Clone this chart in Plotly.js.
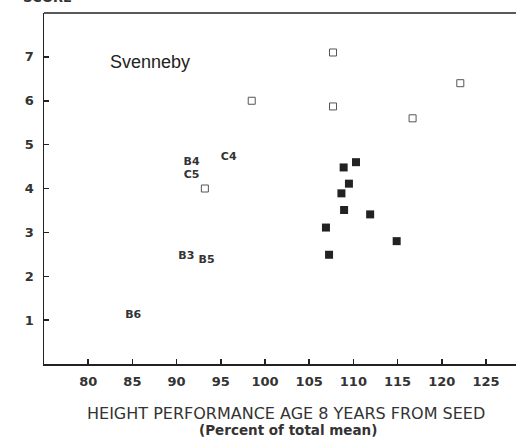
<!DOCTYPE html>
<html><head><meta charset="utf-8">
<script src="https://cdn.plot.ly/plotly-3.0.1.min.js"></script>
<style>body{margin:0;padding:0;background:#fff}#chart{width:516px;height:444px}</style>
</head><body><div id="chart"></div>
<script>
// Open squares
const openX = [98.5, 107.7, 107.7, 122.1, 116.7, 93.2];
const openY = [6.0, 7.1, 5.87, 6.4, 5.6, 4.0];
// Filled squares
const filledX = [110.3, 108.9, 109.5, 108.65, 108.95, 111.9, 106.9, 114.9, 107.25];
const filledY = [4.6, 4.48, 4.11, 3.89, 3.51, 3.41, 3.11, 2.8, 2.49];
// Text-labelled points
const labelText = ["B4", "C5", "C4", "B3", "B5", "B6"];
const labelX = [91.7, 91.7, 95.9, 91.1, 93.4, 85.1];
const labelY = [4.59, 4.31, 4.72, 2.45, 2.36, 1.11];
const xTicks = [80, 85, 90, 95, 100, 105, 110, 115, 120, 125];
const yTicks = [1, 2, 3, 4, 5, 6, 7];

const ink = '#222';
const tickFont = {family: 'DejaVu Sans, sans-serif', size: 13, color: '#333', weight: 'bold'};
const traces = [
  {x: openX, y: openY, mode: 'markers', type: 'scatter',
   marker: {symbol: 'square-open', size: 7, color: '#555', line: {width: 1, color: '#555'}}},
  {x: filledX, y: filledY, mode: 'markers', type: 'scatter',
   marker: {symbol: 'square', size: 8, color: ink}},
  {x: labelX, y: labelY, mode: 'text', type: 'scatter', text: labelText,
   textposition: 'middle center',
   textfont: {family: 'DejaVu Sans, sans-serif', size: 11, color: '#333', weight: 'bold'}}
];
const layout = {
  width: 516, height: 444,
  margin: {l: 44, r: 0, t: 13, b: 80},
  showlegend: false,
  paper_bgcolor: '#fff', plot_bgcolor: '#fff',
  xaxis: {range: [75, 128.4], tickvals: xTicks, ticktext: xTicks.map(String),
    ticks: 'inside', ticklen: 5, tickwidth: 1.5, tickcolor: ink, ticklabelstandoff: 5,
    showline: true, linewidth: 1.5, linecolor: ink, mirror: false,
    showgrid: false, zeroline: false, tickfont: tickFont},
  yaxis: {range: [0, 8], tickvals: yTicks, ticktext: yTicks.map(String),
    ticks: 'inside', ticklen: 5, tickwidth: 1.5, tickcolor: ink, ticklabelstandoff: 6,
    showline: true, linewidth: 1.5, linecolor: ink, mirror: false,
    showgrid: false, zeroline: false, tickfont: tickFont},
  shapes: [
    {type: 'line', xref: 'paper', yref: 'paper', x0: 0, x1: 1.01, y0: 1, y1: 1,
     line: {color: ink, width: 1.5}}
  ],
  annotations: [
    {text: 'Svenneby', x: 87.0, y: 6.89, xref: 'x', yref: 'y', showarrow: false,
     font: {family: 'Liberation Sans, Arial, sans-serif', size: 18, color: ink}},
    {text: 'HEIGHT PERFORMANCE AGE 8 YEARS FROM SEED', px: 286, py: 413,
     font: {family: 'DejaVu Sans, sans-serif', size: 16, color: '#333'}},
    {text: '<b>(Percent of total mean)</b>', px: 288, py: 430,
     font: {family: 'DejaVu Sans, sans-serif', size: 13.5, color: '#333'}},
    {text: 'SCORE', px: 47, py: -3,
     font: {family: 'DejaVu Sans, sans-serif', size: 13, color: '#333', weight: 'bold'}}
  ]
};
// pixel-positioned annotations -> paper fractions (centred on the given pixel)
const L = 44, T = 13, pw = 516 - 44, ph = 444 - 13 - 80;
layout.annotations.forEach(a => {
  if (a.px !== undefined) {
    a.xref = 'paper'; a.yref = 'paper'; a.showarrow = false;
    a.x = (a.px - L) / pw; a.y = 1 - (a.py - T) / ph;
    a.xanchor = 'center'; a.yanchor = 'middle';
    delete a.px; delete a.py;
  }
});
Plotly.newPlot('chart', traces, layout, {displayModeBar: false, staticPlot: true});
</script></body></html>
